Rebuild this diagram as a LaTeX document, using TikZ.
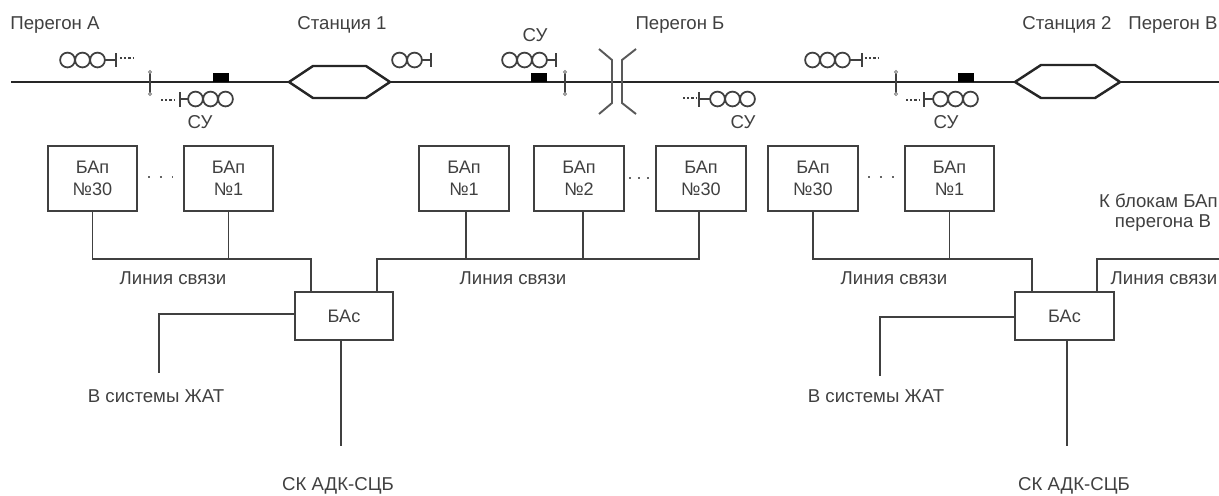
\documentclass[tikz,border=0pt]{standalone}
\usepackage{fontspec}
\setmainfont{Liberation Sans}
\tikzset{
  label text/.style={text=black!75, font=\fontsize{10.6}{12.5}\selectfont, inner sep=0pt, align=center},
  block/.style={draw=black!75, line width=1.3pt, text=black!75, font=\fontsize{10.3}{12.5}\selectfont, align=center, inner sep=0pt, minimum width=51pt, minimum height=37pt},
  hub/.style={block, minimum width=56pt, minimum height=27.5pt},
  wire/.style={draw=black!75, line width=1.1pt},
  track/.style={draw=black!85, line width=1.4pt},
  coil/.style={draw=black!75, line width=1pt},
  dots line/.style={draw=black!75, line width=1.2pt, dash pattern=on 1.2pt off 1.2pt},
  gap dots/.style={draw=black!60, line width=1.4pt, dash pattern=on 1.4pt off 5.4pt}
}
\begin{document}
\begin{tikzpicture}[x=0.02cm, y=-0.02cm]
    \useasboundingbox (0,0) rectangle (1219,495);

    % Путь и станции
    \draw[track] (11,82) -- (289,82);
    \draw[track] (289,82) -- (313,66) -- (366,66) -- (390,82) -- (366,98) -- (313,98) -- cycle;
    \draw[track] (390,82) -- (1015,82);
    \draw[track] (1015,82) -- (1041,65) -- (1095,65) -- (1120,82) -- (1095,98) -- (1041,98) -- cycle;
    \draw[track] (1120,82) -- (1219,82);

    % Чёрные прямоугольники на пути
    \fill[black] (213,73) rectangle (229,82);
    \fill[black] (531,73) rectangle (547,82);
    \fill[black] (958,73) rectangle (974,82);

    % Стойки
    \foreach \px in {150,565,896} {
      \draw[coil] (\px,72) -- (\px,94);
      \filldraw[draw=black!50, fill=white, line width=0.5pt] (\px,72) circle[radius=1.6];
      \filldraw[draw=black!50, fill=white, line width=0.5pt] (\px,94) circle[radius=1.6];
    }

    % Мост
    \draw[wire, draw=black!65] (599,49) -- (612,60) -- (612,103) -- (599,114);
    \draw[wire, draw=black!65] (636,49) -- (622,60) -- (622,103) -- (636,114);

    % Катушки над путём
    \foreach \cx in {67.5,82.5,97.5,399.5,414.5,509.5,524.5,539.5,812.5,827.5,842.5}
      \draw[coil] (\cx,60) circle[radius=7.4];
    \draw[coil] (105,60) -- (116,60) (116,53) -- (116,67);
    \draw[coil] (422,60) -- (431,60) (431,53) -- (431,67);
    \draw[coil] (547,60) -- (556,60) (556,53) -- (556,67);
    \draw[coil] (850,60) -- (862,60) (862,53) -- (862,67);
    \draw[dots line] (120,58) -- (134,58);
    \draw[dots line] (865,58) -- (879,58);

    % Катушки под путём
    \foreach \cx in {195.5,210.5,225.5,717.5,732.5,747.5,940.5,955.5,970.5}
      \draw[coil] (\cx,99) circle[radius=7.4];
    \draw[coil] (180,92) -- (180,107) (180,99) -- (188,99);
    \draw[coil] (699,92) -- (699,107) (699,99) -- (710,99);
    \draw[coil] (924,92) -- (924,107) (924,99) -- (933,99);
    \draw[dots line] (161,100) -- (175,100);
    \draw[dots line] (683,98) -- (697,98);
    \draw[dots line] (906,100) -- (920,100);

    % Подписи вверху
    \node[label text] (peregonA) at (55,25) {Перегон А};
    \node[label text] (stanciya1) at (342,25) {Станция 1};
    \node[label text] (peregonB) at (680,25) {Перегон Б};
    \node[label text] (stanciya2) at (1067,25) {Станция 2};
    \node[label text] (peregonV) at (1173,25) {Перегон В};
    \node[label text] (suA) at (200,122) {СУ};
    \node[label text] (suB) at (535,35) {СУ};
    \node[label text] (suC) at (743,122) {СУ};
    \node[label text] (suD) at (946,122) {СУ};

    % Блоки БАп
    \node[block] (bap30a) at (92.5,178.5) {БАп\\№30};
    \node[block] (bap1a) at (228.5,178.5) {БАп\\№1};
    \node[block] (bap1b) at (464,178.5) {БАп\\№1};
    \node[block] (bap2b) at (579,178.5) {БАп\\№2};
    \node[block] (bap30b) at (701,178.5) {БАп\\№30};
    \node[block] (bap30c) at (813,178.5) {БАп\\№30};
    \node[block] (bap1c) at (949.5,178.5) {БАп\\№1};

    % Многоточия
    \draw[gap dots] (148,177) -- (173,177);
    \draw[gap dots, dash pattern=on 1.4pt off 3.7pt] (629,178) -- (650,178);
    \draw[gap dots] (868,177) -- (894,177);

    % Блоки БАс
    \node[hub] (bas1) at (344,316) {БАс};
    \node[hub] (bas2) at (1064.5,316) {БАс};

    % Линии связи
    \coordinate (busA) at (311,259);
    \coordinate (busB) at (377,259);
    \coordinate (busC) at (1032,259);
    \coordinate (busD) at (1097,259);
    \coordinate (busEnd) at (1219,259);
    \coordinate (dropB1) at (466,259);
    \coordinate (dropB2) at (583,259);
    \coordinate (dropB30) at (699,259);
    \draw[wire] (bap30a.south) |- (busA) -- (busA |- bas1.north);
    \draw[wire] (bap1a.south) -- (bap1a.south |- busA);
    \draw[wire] (dropB30 |- bap30b.south) -- (dropB30) -- (busB) -- (busB |- bas1.north);
    \draw[wire] (dropB1 |- bap1b.south) -- (dropB1);
    \draw[wire] (dropB2 |- bap2b.south) -- (dropB2);
    \draw[wire] (bap30c.south) |- (busC) -- (busC |- bas2.north);
    \draw[wire] (bap1c.south) -- (bap1c.south |- busC);
    \draw[wire] (busD |- bas2.north) -- (busD) -- (busEnd);

    \node[label text] (liniyaA) at (173,278) {Линия связи};
    \node[label text] (liniyaB) at (513,278) {Линия связи};
    \node[label text] (liniyaC) at (894,278) {Линия связи};
    \node[label text] (liniyaD) at (1164,278) {Линия связи};
    \node[label text, anchor=east] (blokam) at (1218,201) {К блокам БАп};
    \node[label text] (peregona) at (1163,223) {перегона В};

    % Выходы от БАс
    \coordinate (zhat1) at (159,373);
    \coordinate (zhat2) at (880,376);
    \coordinate (sk1) at (341,446);
    \coordinate (sk2) at (1067,446);
    \draw[wire] (bas1.west |- 0,314) -| (zhat1);
    \draw[wire] (bas2.west |- 0,317) -| (zhat2);
    \draw[wire] (sk1 |- bas1.south) -- (sk1);
    \draw[wire] (sk2 |- bas2.south) -- (sk2);
    \node[label text] (zhatA) at (156,396) {В системы ЖАТ};
    \node[label text] (zhatB) at (876,396) {В системы ЖАТ};
    \node[label text] (skA) at (338,486) {СК АДК-СЦБ};
    \node[label text] (skB) at (1074,486) {СК АДК-СЦБ};
\end{tikzpicture}
\end{document}
